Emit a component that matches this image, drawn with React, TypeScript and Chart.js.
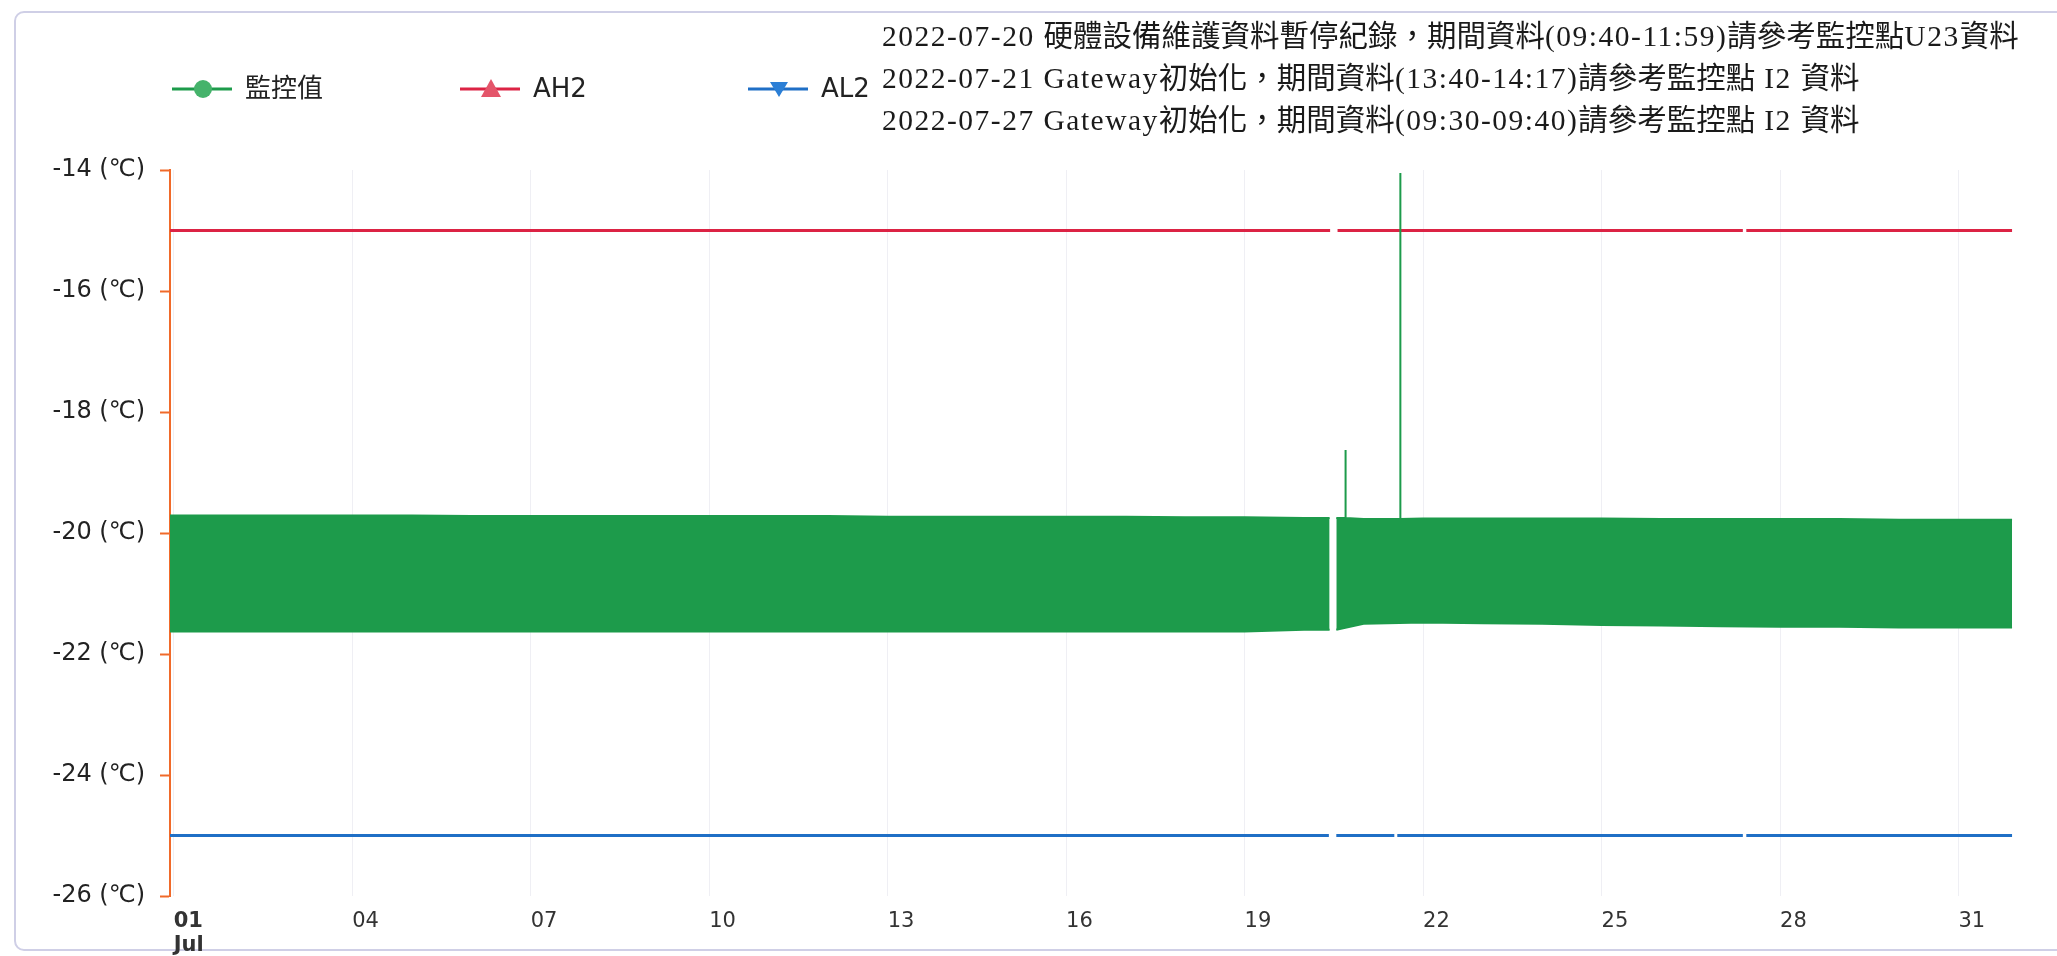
import React, { useEffect, useRef } from 'react';
import { Chart, registerables } from 'chart.js';

Chart.register(...registerables);

// ---------------- data ----------------
const seriesLabels = ['監控值', 'AH2', 'AL2'];

const notes = [
  '2022-07-20 硬體設備維護資料暫停紀錄，期間資料(09:40-11:59)請參考監控點U23資料',
  '2022-07-21 Gateway初始化，期間資料(13:40-14:17)請參考監控點 I2 資料',
  '2022-07-27 Gateway初始化，期間資料(09:30-09:40)請參考監控點 I2 資料',
];

// x axis: hours since 2022-07-01 00:00
const tickDays = [1, 4, 7, 10, 13, 16, 19, 22, 25, 28, 31];
const tickLabels = ['01', '04', '07', '10', '13', '16', '19', '22', '25', '28', '31'];
const monthLabel = 'Jul';
const axisStartHour = -1.5;
const axisEndHour = 744;
const dataStartHour = -1.5;
const dataEndHour = 741.6;

// y axis (℃)
const yTicks = [-26, -24, -22, -20, -18, -16, -14];

// 監控值: daily upper / lower edge of the cycling band (Jul 1 .. Jul 31)
const bandTop = [
  -19.71, -19.71, -19.71, -19.71, -19.71, -19.72, -19.72, -19.72, -19.72, -19.72,
  -19.72, -19.72, -19.73, -19.73, -19.73, -19.73, -19.73, -19.74, -19.74, -19.75,
  -19.77, -19.76, -19.76, -19.76, -19.76, -19.77, -19.77, -19.77, -19.77, -19.78,
  -19.78,
];
const bandBottom = [
  -21.63, -21.63, -21.63, -21.63, -21.63, -21.63, -21.63, -21.63, -21.63, -21.63,
  -21.63, -21.63, -21.63, -21.63, -21.63, -21.63, -21.63, -21.63, -21.63, -21.60,
  -21.50, -21.48, -21.49, -21.50, -21.52, -21.53, -21.54, -21.55, -21.55, -21.56,
  -21.56,
];
// single readings that stick out of the band
const spikeHours = [472.7, 494.8];
const spikeValues = [-18.63, -14.05];

// alarm limits
const ah2Level = -15.0;
const al2Level = -25.0;

// data gaps (hours)
const bandGaps: [number, number][] = [[466.3, 469.0]];
const ah2Gaps: [number, number][] = [[466.5, 469.5], [633.0, 634.4]];
const al2Gaps: [number, number][] = [[466.0, 469.0], [492.4, 493.6], [633.0, 634.4]];

const colors = {
  green: '#1d9b4b',
  greenMarker: '#45b36b',
  red: '#dc2344',
  redMarker: '#e4556a',
  blue: '#1f6fc6',
  blueMarker: '#2b7fd6',
  axis: '#f06a2a',
};

// ---------------- helpers ----------------
type Pt = { x: number; y: number | null };

function dayValue(arr: number[], t: number) {
  const d = Math.min(arr.length - 1, Math.max(0, Math.floor(t / 24)));
  return arr[d];
}

function buildSeries(
  valueAt: (t: number) => number,
  gaps: [number, number][],
  overrides: { x: number; y: number }[] = [],
  anchors: number[] = [],
): Pt[] {
  const times = new Set<number>([dataStartHour, dataEndHour, ...anchors]);
  for (let d = 1; d * 24 < dataEndHour; d++) times.add(d * 24);
  gaps.forEach(([a, b]) => { times.add(a); times.add(b); });
  overrides.forEach((o) => times.add(o.x));
  const sorted = [...times].sort((a, b) => a - b);
  const pts: Pt[] = [];
  for (const t of sorted) {
    if (gaps.some(([a, b]) => t > a && t < b)) continue;
    const ov = overrides.find((o) => o.x === t);
    pts.push({ x: t, y: ov ? ov.y : valueAt(t) });
    if (gaps.some(([a]) => a === t)) pts.push({ x: t + 0.01, y: null });
  }
  return pts;
}

const spikeOverrides = spikeHours.map((h, i) => ({ x: h, y: spikeValues[i] }));
const spikeAnchors = spikeHours.flatMap((h) => [h - 0.08, h + 0.08]);

const upperData = buildSeries((t) => dayValue(bandTop, t), bandGaps, spikeOverrides, spikeAnchors);
const lowerData = buildSeries((t) => dayValue(bandBottom, t), bandGaps);
const ah2Data = buildSeries(() => ah2Level, ah2Gaps);
const al2Data = buildSeries(() => al2Level, al2Gaps);

// ---------------- custom legend (line + marker) ----------------
const LEGEND_X = 172;
const LEGEND_STEP = 288;
const LEGEND_Y = 89;

const lineLegend = {
  id: 'lineLegend',
  afterDraw(chart: any) {
    const ctx = chart.ctx as CanvasRenderingContext2D;
    const items = chart.data.datasets.filter((ds: any) => ds.legendMarker);
    items.forEach((ds: any, i: number) => {
      const x0 = LEGEND_X + i * LEGEND_STEP;
      const y = LEGEND_Y;
      ctx.save();
      ctx.strokeStyle = ds.borderColor;
      ctx.lineWidth = 3;
      ctx.beginPath();
      ctx.moveTo(x0, y);
      ctx.lineTo(x0 + 60, y);
      ctx.stroke();
      const cx = x0 + 31;
      ctx.fillStyle = ds.legendMarkerColor;
      ctx.beginPath();
      if (ds.legendMarker === 'circle') {
        ctx.arc(cx, y, 9, 0, Math.PI * 2);
      } else if (ds.legendMarker === 'triangle') {
        ctx.moveTo(cx, y - 10);
        ctx.lineTo(cx + 10, y + 8);
        ctx.lineTo(cx - 10, y + 8);
        ctx.closePath();
      } else {
        ctx.moveTo(cx - 9, y - 7);
        ctx.lineTo(cx + 9, y - 7);
        ctx.lineTo(cx, y + 8);
        ctx.closePath();
      }
      ctx.fill();
      ctx.fillStyle = '#222';
      ctx.font = '26px "DejaVu Sans", "Noto Sans CJK TC", sans-serif';
      ctx.textBaseline = 'middle';
      ctx.textAlign = 'left';
      ctx.fillText(ds.label, x0 + 73, y + 1);
      ctx.restore();
    });
  },
};

function renderNote(s: string) {
  return s
    .split(/([\x00-\x7F]+)/)
    .filter((p) => p.length > 0)
    .map((part, j) =>
      /^[\x00-\x7F]+$/.test(part) ? (
        <span key={j} style={{ letterSpacing: '1.5px' }}>{part}</span>
      ) : (
        <span key={j}>{part}</span>
      ),
    );
}

export default function App() {
  const canvasRef = useRef<HTMLCanvasElement>(null);

  useEffect(() => {
    document.body.style.margin = '0';
    const canvas = canvasRef.current!;
    const chart = new Chart(canvas, {
      type: 'line',
      data: {
        datasets: [
          {
            label: seriesLabels[0],
            data: upperData as any,
            borderColor: colors.green,
            backgroundColor: colors.green,
            borderWidth: 2,
            pointRadius: 0,
            fill: '+1',
            legendMarker: 'circle',
            legendMarkerColor: colors.greenMarker,
          } as any,
          {
            label: seriesLabels[0] + ' ',
            data: lowerData as any,
            borderColor: colors.green,
            backgroundColor: colors.green,
            borderWidth: 2,
            pointRadius: 0,
            fill: false,
          },
          {
            label: seriesLabels[1],
            data: ah2Data as any,
            borderColor: colors.red,
            borderWidth: 3,
            pointRadius: 0,
            fill: false,
            legendMarker: 'triangle',
            legendMarkerColor: colors.redMarker,
          } as any,
          {
            label: seriesLabels[2],
            data: al2Data as any,
            borderColor: colors.blue,
            borderWidth: 3,
            pointRadius: 0,
            fill: false,
            legendMarker: 'triangleDown',
            legendMarkerColor: colors.blueMarker,
          } as any,
        ],
      },
      options: {
        animation: false,
        responsive: false,
        devicePixelRatio: 1,
        spanGaps: false,
        layout: { padding: { left: 0, top: 170, right: 39, bottom: 0 } },
        elements: { line: { tension: 0, borderCapStyle: 'butt' }, point: { radius: 0 } },
        plugins: {
          legend: { display: false },
          title: { display: false },
          tooltip: { enabled: false },
          filler: { propagate: false },
        },
        scales: {
          x: {
            type: 'linear',
            min: axisStartHour,
            max: axisEndHour,
            afterBuildTicks: (s: any) => {
              s.ticks = tickDays.map((d) => ({ value: (d - 1) * 24 }));
            },
            afterFit: (s: any) => {
              s.height = 60;
            },
            border: { display: false },
            grid: {
              display: true,
              drawOnChartArea: true,
              drawTicks: false,
              color: 'rgba(232,232,240,0.7)',
              lineWidth: 1,
            },
            ticks: {
              autoSkip: false,
              maxRotation: 0,
              minRotation: 0,
              align: 'start',
              padding: 13,
              color: '#333',
              font: (c: any) => ({
                family: '"DejaVu Sans", sans-serif',
                size: 21,
                weight: c.index === 0 ? 'bold' : 'normal',
                lineHeight: 1.15,
              }),
              callback: (_v: any, i: number) => (i === 0 ? [tickLabels[0], monthLabel] : tickLabels[i]),
            },
          },
          y: {
            type: 'linear',
            min: yTicks[0],
            max: yTicks[yTicks.length - 1],
            afterBuildTicks: (s: any) => {
              s.ticks = yTicks.map((v) => ({ value: v }));
            },
            afterFit: (s: any) => {
              s.width = 170;
            },
            border: { display: true, color: colors.axis, width: 2 },
            grid: {
              display: true,
              drawOnChartArea: false,
              drawTicks: true,
              tickLength: 10,
              tickColor: colors.axis,
              tickWidth: 2,
              color: colors.axis,
            },
            ticks: {
              padding: 15,
              color: '#222',
              font: { family: '"DejaVu Sans", sans-serif', size: 24 },
              callback: (v: any) => `${v} (℃)`,
            },
          },
        },
      } as any,
      plugins: [lineLegend],
    });
    return () => chart.destroy();
  }, []);

  return (
    <div style={{ position: 'relative', width: 2057, height: 956, background: '#fff', overflow: 'hidden' }}>
      <div
        style={{
          position: 'absolute',
          left: 14,
          top: 11,
          width: 2057,
          height: 956 - 11 - 5,
          border: '2px solid #cfcfe6',
          borderRadius: 10,
          boxSizing: 'border-box',
        }}
      />
      <canvas
        ref={canvasRef}
        width={2057}
        height={956}
        style={{ position: 'absolute', left: 0, top: 0, width: 2057, height: 956 }}
      />
      <div
        style={{
          position: 'absolute',
          left: 882,
          top: 15,
          fontFamily: '"Liberation Serif", "Noto Sans CJK TC", serif',
          fontSize: 29.5,
          lineHeight: '42px',
          color: '#1a1a1a',
          whiteSpace: 'pre',
        }}
      >
        {notes.map((n, i) => (
          <div key={i}>{renderNote(n)}</div>
        ))}
      </div>
    </div>
  );
}
